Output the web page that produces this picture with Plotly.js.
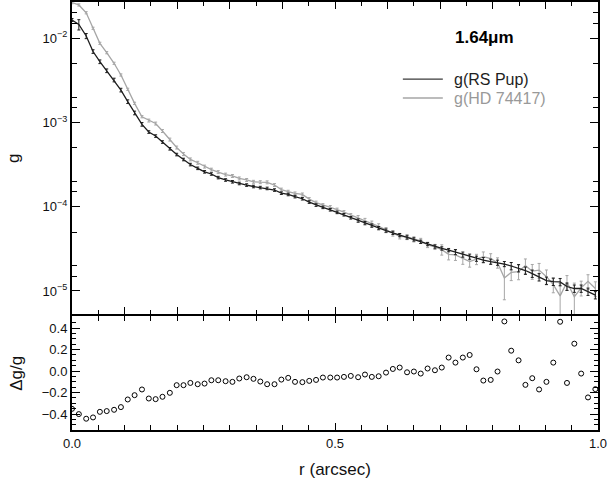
<!DOCTYPE html>
<html><head><meta charset="utf-8">
<script src="https://cdn.plot.ly/plotly-3.0.1.min.js"></script>
<style>html,body{margin:0;padding:0;background:#fff}#chart{width:608px;height:479px}</style>
</head><body><div id="chart"></div>
<script>
// radius (arcsec)
const r = [0.000,0.013,0.027,0.040,0.053,0.066,0.080,0.093,0.106,0.119,
0.133,0.146,0.159,0.172,0.186,0.199,0.212,0.225,0.239,0.252,
0.265,0.278,0.292,0.305,0.318,0.332,0.345,0.358,0.371,0.385,
0.398,0.411,0.424,0.438,0.451,0.464,0.477,0.491,0.504,0.517,
0.530,0.544,0.557,0.570,0.583,0.597,0.610,0.623,0.637,0.650,
0.663,0.676,0.690,0.703,0.716,0.729,0.743,0.756,0.769,0.782,
0.796,0.809,0.822,0.835,0.849,0.862,0.875,0.888,0.902,0.915,
0.928,0.941,0.955,0.968,0.981,0.995];

// g(RS Pup)
const gRSPup = [0.0165,0.0146,0.01065,0.00697,0.00527,0.00412,0.00320,0.00243,0.00177,0.00130,
9.52e-4,7.71e-4,6.91e-4,5.87e-4,4.88e-4,4.17e-4,3.64e-4,3.17e-4,2.86e-4,2.60e-4,
2.45e-4,2.22e-4,2.08e-4,1.98e-4,1.89e-4,1.81e-4,1.74e-4,1.69e-4,1.65e-4,1.58e-4,
1.45e-4,1.40e-4,1.32e-4,1.245e-4,1.137e-4,1.047e-4,9.84e-5,9.21e-5,8.58e-5,8.04e-5,
7.40e-5,6.86e-5,6.40e-5,5.98e-5,5.58e-5,5.22e-5,4.91e-5,4.61e-5,4.33e-5,4.10e-5,
3.84e-5,3.61e-5,3.37e-5,3.20e-5,3.06e-5,2.90e-5,2.71e-5,2.56e-5,2.42e-5,2.33e-5,
2.23e-5,2.17e-5,2.09e-5,1.98e-5,1.87e-5,1.75e-5,1.61e-5,1.46e-5,1.33e-5,1.29e-5,
1.28e-5,1.13e-5,1.07e-5,1.07e-5,9.84e-6,8.94e-6];

// g(HD 74417)
const gHD74417 = [0.0265,0.0249,0.0201,0.01315,0.00872,0.00675,0.00505,0.00367,0.00248,0.00169,
1.172e-3,1.056e-3,9.73e-4,7.93e-4,6.28e-4,5.05e-4,4.22e-4,3.65e-4,3.33e-4,3.00e-4,
2.76e-4,2.58e-4,2.41e-4,2.32e-4,2.17e-4,2.08e-4,1.98e-4,1.96e-4,1.95e-4,1.81e-4,
1.60e-4,1.51e-4,1.44e-4,1.40e-4,1.234e-4,1.122e-4,1.047e-4,9.92e-5,9.26e-5,8.65e-5,
7.97e-5,7.34e-5,6.80e-5,6.32e-5,5.87e-5,5.29e-5,4.82e-5,4.46e-5,4.38e-5,4.11e-5,
3.94e-5,3.52e-5,3.34e-5,3.10e-5,2.72e-5,2.68e-5,2.41e-5,2.23e-5,2.39e-5,2.55e-5,
2.43e-5,2.17e-5,1.43e-5,1.66e-5,1.70e-5,2.00e-5,1.72e-5,1.77e-5,1.48e-5,1.19e-5,
8.74e-6,1.27e-5,8.55e-6,1.09e-5,1.30e-5,1.07e-5];

// relative uncertainties
const relErrRSPup = [0.04,0.14,0.07,0.05,0.05,0.05,0.05,0.05,0.05,0.05,
0.05,0.035,0.035,0.035,0.035,0.035,0.035,0.035,0.035,0.035,
0.035,0.035,0.035,0.035,0.035,0.035,0.035,0.035,0.035,0.035,
0.035,0.035,0.035,0.035,0.035,0.035,0.035,0.035,0.035,0.035,
0.035,0.045,0.045,0.045,0.045,0.045,0.045,0.045,0.045,0.045,
0.045,0.045,0.045,0.045,0.045,0.07,0.07,0.07,0.07,0.07,
0.07,0.07,0.07,0.10,0.10,0.10,0.10,0.10,0.10,0.10,
0.10,0.10,0.10,0.10,0.10,0.10];
const relErrHD74417 = [0.03,0.03,0.03,0.03,0.03,0.03,0.03,0.03,0.03,0.03,
0.03,0.04,0.04,0.04,0.04,0.04,0.04,0.04,0.04,0.04,
0.04,0.04,0.04,0.04,0.04,0.04,0.04,0.04,0.04,0.04,
0.04,0.04,0.04,0.04,0.04,0.04,0.04,0.04,0.04,0.04,
0.04,0.07,0.07,0.07,0.07,0.07,0.07,0.07,0.07,0.07,
0.07,0.07,0.07,0.14,0.14,0.14,0.14,0.14,0.14,0.14,
0.14,0.14,0.45,0.20,0.20,0.20,0.20,0.20,0.20,0.20,
0.40,0.20,0.45,0.20,0.20,0.20];

// Δg/g
const dgg = [-0.351,-0.400,-0.443,-0.431,-0.379,-0.372,-0.360,-0.335,-0.264,-0.224,
-0.171,-0.255,-0.261,-0.239,-0.202,-0.131,-0.131,-0.110,-0.122,-0.116,
-0.085,-0.085,-0.094,-0.100,-0.069,-0.057,-0.072,-0.097,-0.122,-0.122,
-0.079,-0.063,-0.100,-0.103,-0.091,-0.082,-0.060,-0.060,-0.060,-0.054,
-0.045,-0.057,-0.032,-0.054,-0.048,-0.014,0.020,0.033,-0.011,-0.004,
-0.023,0.024,0.008,0.033,0.126,0.079,0.126,0.150,0.017,-0.088,
-0.082,-0.004,0.462,0.190,0.100,-0.128,-0.066,-0.171,-0.100,0.079,
0.459,-0.110,0.255,-0.023,-0.245,-0.168];

const xMajorVals = [0,0.1,0.2,0.3,0.4,0.5,0.6,0.7,0.8,0.9,1.0];
const xLabelVals = [0,0.5,1.0];
const xLabelText = ['0.0','0.5','1.0'];
const gTickVals = [1e-5,1e-4,1e-3,1e-2];
const gTickText = ['10<sup>\u22125</sup>','10<sup>\u22124</sup>','10<sup>\u22123</sup>','10<sup>\u22122</sup>'];
const dTickVals = [-0.4,-0.2,0,0.2,0.4];
const dTickText = ['\u22120.4','\u22120.2','0.0','0.2','0.4'];
const gMinorVals = [1.5e-5,2e-5,5e-5,1.5e-4,2e-4,5e-4,1.5e-3,2e-3,5e-3,1.5e-2,2e-2];

const errAbs = (v, rel) => v.map((x,i)=>x*rel[i]);

const colRS = '#1e1e1e', colHD = '#a6a6a6';

const traces = [
  {x:r, y:gHD74417, xaxis:'x', yaxis:'y', type:'scatter', mode:'lines',
   line:{color:colHD, width:1.3},
   error_y:{type:'data', array:errAbs(gHD74417, relErrHD74417), color:colHD, thickness:1, width:1.5}},
  {x:r, y:gRSPup, xaxis:'x', yaxis:'y', type:'scatter', mode:'lines',
   line:{color:colRS, width:1.3},
   error_y:{type:'data', array:errAbs(gRSPup, relErrRSPup), color:colRS, thickness:1, width:1.5}},
  {x:r, y:dgg, xaxis:'x2', yaxis:'y2', type:'scatter', mode:'markers',
   marker:{symbol:'circle-open', size:5, color:'#000', line:{width:1, color:'#000'}}}
];

const axCommon = {showline:true, linewidth:2, linecolor:'#000', mirror:'ticks',
  ticks:'inside', tickcolor:'#000', tickwidth:1, showgrid:false, zeroline:false};

const lowTop = 0.2652, upBottom = 0.2699;
const layout = {
  width:608, height:479,
  margin:{l:72, r:10, t:2, b:49},
  paper_bgcolor:'#fff', plot_bgcolor:'#fff',
  font:{family:'Liberation Sans, Arial, sans-serif', size:13, color:'#111'},
  showlegend:false,
  xaxis:Object.assign({}, axCommon, {domain:[0,1], anchor:'y', range:[0,1],
    tickmode:'array', tickvals:xMajorVals, showticklabels:false, ticklen:7,
    minor:{dtick:0.05, tick0:0, ticks:'inside', ticklen:4, tickcolor:'#000'}}),
  yaxis:Object.assign({}, axCommon, {domain:[upBottom,1], anchor:'x', type:'log',
    range:[-5.279,-1.569], tickmode:'array', tickvals:gTickVals, ticktext:gTickText, ticklen:8,
    minor:{tickmode:'array', tickvals:gMinorVals, ticks:'inside', ticklen:5, tickcolor:'#000'},
    title:{text:'g', font:{size:17, color:'#111'}, standoff:19}}),
  xaxis2:Object.assign({}, axCommon, {domain:[0,1], anchor:'y2', range:[0,1], matches:'x',
    tickmode:'array', tickvals:xLabelVals, ticktext:xLabelText, ticklen:7,
    minor:{dtick:0.05, tick0:0, ticks:'inside', ticklen:5, tickcolor:'#000'},
    title:{text:'r (arcsec)', font:{size:17, color:'#111'}, standoff:18}}),
  yaxis2:Object.assign({}, axCommon, {domain:[0,lowTop], anchor:'x2',
    range:[-0.548,0.508], tickmode:'array', tickvals:dTickVals, ticktext:dTickText, ticklen:8,
    minor:{dtick:0.05, tick0:0, ticks:'inside', ticklen:4, tickcolor:'#000'},
    title:{text:'\u0394g/g', font:{size:17, color:'#111'}, standoff:15}}),
  shapes:[
    {type:'line', xref:'paper', yref:'paper', x0:0.629, x1:0.705, y0:0.820, y1:0.820, line:{color:'#3a3a3a', width:1.3}},
    {type:'line', xref:'paper', yref:'paper', x0:0.629, x1:0.705, y0:0.7757, y1:0.7757, line:{color:'#a6a6a6', width:1.3}}
  ],
  annotations:[
    {xref:'paper', yref:'paper', x:0.785, y:0.918, text:'<b>1.64\u03bcm</b>', showarrow:false,
     font:{size:17, color:'#000'}, xanchor:'center', yanchor:'middle'},
    {xref:'paper', yref:'paper', x:0.724, y:0.820, text:'g(RS Pup)', showarrow:false,
     font:{size:16, color:'#1e1e1e'}, xanchor:'left', yanchor:'middle', borderpad:0},
    {xref:'paper', yref:'paper', x:0.724, y:0.7757, text:'g(HD 74417)', showarrow:false,
     font:{size:16, color:'#999'}, xanchor:'left', yanchor:'middle', borderpad:0}
  ]
};

Plotly.newPlot('chart', traces, layout, {displayModeBar:false, staticPlot:true});
</script>
</body></html>
